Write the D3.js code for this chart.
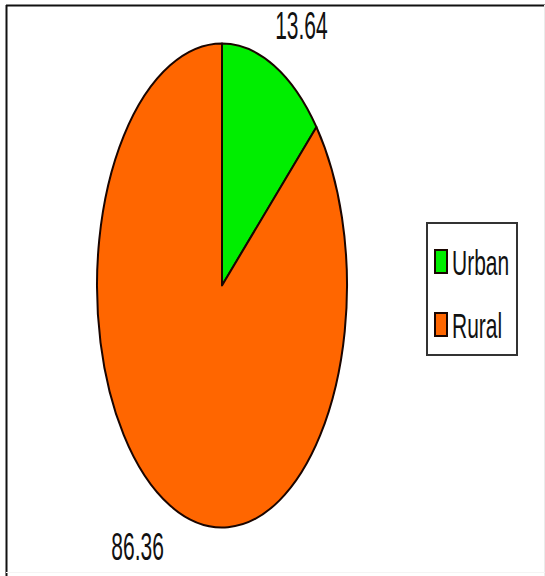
<!DOCTYPE html>
<html>
<head>
<meta charset="utf-8">
<script src="https://cdn.jsdelivr.net/npm/d3@7"></script>
<style>
  html, body { margin: 0; padding: 0; background: #fff; }
  svg { display: block; }
  text { font-family: Arial, "Liberation Sans", sans-serif; fill: #111; }
</style>
</head>
<body>
<svg id="chart" width="545" height="576"></svg>
<script>
// Share of population by area type
const categories = ["Urban", "Rural"];
const values = [13.64, 86.36];
const colors = ["#00ee00", "#ff6600"];

const W = 545, H = 576;
const svg = d3.select("#chart");

// frame
svg.append("line").attr("x1", 6).attr("y1", 5.5).attr("x2", W).attr("y2", 5.5)
  .attr("stroke", "#111").attr("stroke-width", 2);
svg.append("line").attr("x1", 6.5).attr("y1", 5).attr("x2", 6.5).attr("y2", H)
  .attr("stroke", "#111").attr("stroke-width", 2);
svg.append("line").attr("x1", W - 0.5).attr("y1", 5).attr("x2", W - 0.5).attr("y2", H)
  .attr("stroke", "#ebebeb").attr("stroke-width", 1);
svg.append("line").attr("x1", 6).attr("y1", H - 3.5).attr("x2", W).attr("y2", H - 3.5)
  .attr("stroke", "#f4f4f4").attr("stroke-width", 1);

// pie drawn as a circle and stretched into an ellipse
const cx = 222, cy = 285.5, rx = 125, ry = 242;
const sy = ry / rx;
const fontSize = 21, textStretch = 1.86;

const pie = d3.pie().sort(null).value(d => d)(values);
const arc = d3.arc().innerRadius(0).outerRadius(rx);

const g = svg.append("g").attr("transform", `translate(${cx},${cy}) scale(1,${sy})`);
g.selectAll("path").data(pie).join("path")
  .attr("d", arc)
  .attr("fill", (d, i) => colors[i])
  .attr("stroke", "#1a0500")
  .attr("stroke-width", 2)
  .attr("stroke-linejoin", "round")
  .style("vector-effect", "non-scaling-stroke");

// value labels placed just outside the rim
const labelK = 1.12;
const capH = fontSize * 0.716 * textStretch;
pie.forEach((d, i) => {
  const a = (d.startAngle + d.endAngle) / 2;
  const right = Math.sin(a) >= 0;
  const top = Math.cos(a) >= 0;
  const px = cx + rx * labelK * Math.sin(a) + (right ? -5 : 0);
  const py = cy - ry * labelK * Math.cos(a);
  const by = top ? py : py + capH;
  svg.append("g")
    .attr("transform", `translate(${px},${by}) scale(1,${textStretch})`)
    .append("text")
    .attr("text-anchor", right ? "start" : "end")
    .attr("font-size", fontSize)
    .text(d3.format(".2f")(d.data));
});

// legend
const lg = svg.append("g");
lg.append("rect").attr("x", 427).attr("y", 223).attr("width", 90).attr("height", 132)
  .attr("fill", "#fff").attr("stroke", "#333").attr("stroke-width", 2);
const rowY = d3.scalePoint().domain(categories).range([275, 338]);
categories.forEach((c, i) => {
  const base = rowY(c);
  lg.append("rect").attr("x", 435).attr("y", base - 25).attr("width", 12).attr("height", 23)
    .attr("fill", colors[i]).attr("stroke", "#1a0500").attr("stroke-width", 2);
  lg.append("g")
    .attr("transform", `translate(452,${base}) scale(1,1.7)`)
    .append("text")
    .attr("font-size", fontSize)
    .text(c);
});
</script>
</body>
</html>
